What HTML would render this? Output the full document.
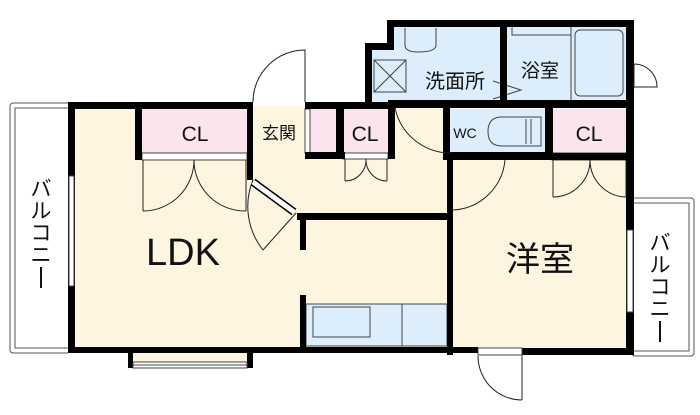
<!DOCTYPE html>
<html><head><meta charset="utf-8"><style>
html,body{margin:0;padding:0;background:#fff;width:700px;height:415px;overflow:hidden}
text{font-family:"Liberation Sans","Noto Sans CJK JP",sans-serif;fill:#111}
</style></head><body>
<svg width="700" height="415" viewBox="0 0 700 415" xmlns="http://www.w3.org/2000/svg">
<!-- balconies -->
<rect x="10" y="103" width="60" height="250" rx="3" fill="#fff" stroke="#555" stroke-width="1"/>
<rect x="15" y="108" width="55" height="240" fill="none" stroke="#555" stroke-width="1"/>
<rect x="632" y="198" width="62" height="158" rx="3" fill="#fff" stroke="#555" stroke-width="1"/>
<rect x="632" y="203" width="57" height="148" fill="none" stroke="#555" stroke-width="1"/>
<!-- floors -->
<rect x="72" y="106" width="378" height="245" fill="#fdf5e0"/>
<rect x="450" y="156" width="181" height="195" fill="#fdf5e0"/>
<rect x="131" y="350" width="119" height="18" fill="#fdf5e0"/>
<rect x="142" y="109" width="105" height="44" fill="#fce4ef"/>
<rect x="253" y="109" width="52" height="44" fill="#fdf5e0"/>
<rect x="310" y="109" width="26" height="44" fill="#fce4ef"/>
<rect x="343" y="109" width="45" height="44" fill="#fce4ef"/>
<rect x="552" y="109" width="76" height="44" fill="#fce4ef"/>
<rect x="450" y="109" width="96" height="44" fill="#dcedfb"/>
<rect x="387" y="25" width="115" height="77" fill="#dcedfb"/>
<rect x="370" y="48" width="20" height="54" fill="#dcedfb"/>
<rect x="506" y="25" width="122" height="77" fill="#dcedfb"/>
<rect x="306" y="304" width="141" height="42" fill="#dcedfb" stroke="#444" stroke-width="1"/>
<rect x="313" y="307" width="57" height="30" fill="#dcedfb" stroke="#444" stroke-width="1"/>
<line x1="402" y1="304" x2="402" y2="346" stroke="#444"/>
<!-- strips -->
<g fill="#fff" stroke="#444" stroke-width="1">
<rect x="142" y="153" width="105" height="7"/>
<rect x="343" y="153" width="45" height="6"/>
<rect x="552" y="153" width="76" height="7"/>
<rect x="305" y="109" width="5" height="44"/>
</g>
<!-- fixtures -->
<rect x="575" y="30" width="48" height="66" rx="5" fill="#dcedfb" stroke="#444"/>
<line x1="571" y1="27" x2="571" y2="100" stroke="#444"/>
<polyline points="512,27 512,35 571,35" fill="none" stroke="#444"/>
<rect x="374" y="60" width="32" height="32" fill="none" stroke="#444"/><path d="M374 60 L406 92 M406 60 L374 92" stroke="#444"/>
<path d="M405 28 L405 45 Q405 52 418 52 Q436 52 436 45 L436 28" fill="#dcedfb" stroke="#444"/>
<path d="M493 81 L521 90 L493 99" fill="none" stroke="#444"/>
<path d="M502 117 L541 117 L541 146 L502 146 Q488 146 488 131.5 Q488 117 502 117 Z" fill="#dcedfb" stroke="#444"/>
<line x1="526" y1="119" x2="526" y2="144" stroke="#444"/><line x1="531" y1="119" x2="531" y2="144" stroke="#444"/>
<!-- walls -->
<g fill="#000">
<rect x="68" y="102" width="185" height="7"/>
<rect x="305" y="102" width="90" height="7"/>
<rect x="395" y="100" width="238" height="8"/>
<rect x="68" y="102" width="7" height="251"/>
<rect x="135" y="102" width="7" height="58"/>
<rect x="247" y="102" width="6" height="78"/>
<rect x="305" y="152" width="40" height="7"/>
<rect x="336" y="102" width="8" height="57"/>
<rect x="388" y="100" width="7" height="59"/>
<rect x="387" y="20" width="246" height="7"/>
<rect x="387" y="20" width="7" height="30"/>
<rect x="365" y="43" width="29" height="7"/>
<rect x="365" y="43" width="7" height="64"/>
<rect x="500" y="20" width="7" height="82"/>
<rect x="626" y="20" width="8" height="335"/>
<rect x="443" y="100" width="7" height="60"/>
<rect x="443" y="152" width="110" height="7"/>
<rect x="545" y="100" width="8" height="59"/>
<rect x="447" y="153" width="181" height="7"/>
<rect x="447" y="160" width="6" height="195"/>
<rect x="297" y="213" width="156" height="7"/>
<rect x="300" y="213" width="6" height="37"/>
<rect x="300" y="295" width="6" height="58"/>
<rect x="68" y="347" width="410" height="6"/>
<rect x="522" y="348" width="112" height="7"/>
<rect x="128" y="347" width="5" height="21"/>
<rect x="247" y="347" width="6" height="21"/>
</g>
<!-- windows -->
<g fill="#fff" stroke="#444" stroke-width="1">
<rect x="69" y="176" width="5" height="110"/>
<rect x="627" y="230" width="6" height="82"/>
<rect x="133" y="362" width="114" height="6"/>
</g>
<line x1="133" y1="365" x2="247" y2="365" stroke="#444"/>
<!-- doors -->
<g fill="none" stroke="#222" stroke-width="1">
<path d="M305 102 L305 50 A52 52 0 0 0 253 102"/>
<path d="M143 211 L143 160 M143 211 A51 51 0 0 0 194 160 M246 211 L246 160 M246 211 A51 51 0 0 1 194 160"/>
<path d="M345 181 L345 159 M345 181 A21 21 0 0 0 366 159 M387 181 L387 159 M387 181 A21 21 0 0 1 366 159"/>
<path d="M553 197 L553 160 M553 197 A37 37 0 0 0 590 160 M626 197 L626 160 M626 197 A37 37 0 0 1 590 160"/>
<path d="M453 210 A55 55 0 0 0 505 160"/>
<path d="M452 153 A57 57 0 0 1 395 108"/>
<path d="M253 180 A70 70 0 0 0 263 250 L296 213"/>
<path d="M522 400 L522 355 M522 400 A44 44 0 0 1 478 356"/>
<path d="M634 64 L634 87 M634 64 A23 23 0 0 1 657 87 L634 87"/>
</g>
<line x1="253" y1="182" x2="294" y2="212" stroke="#000" stroke-width="8"/>
<line x1="253" y1="182" x2="294" y2="212" stroke="#fff" stroke-width="5"/>
<rect x="478" y="348" width="44" height="7" fill="#fff" stroke="#444"/>
<!-- labels -->
<text x="183" y="265" font-size="38" text-anchor="middle">LDK</text>
<text x="540" y="271" font-size="34" text-anchor="middle">洋室</text>
<text x="195" y="141" font-size="21" text-anchor="middle">CL</text>
<text x="365" y="141" font-size="21" text-anchor="middle">CL</text>
<text x="589" y="141" font-size="21" text-anchor="middle">CL</text>
<text x="279" y="139" font-size="17" text-anchor="middle">玄関</text>
<text x="465" y="138" font-size="14" text-anchor="middle">WC</text>
<text x="455" y="88" font-size="20" text-anchor="middle">洗面所</text>
<text x="540" y="77" font-size="19" text-anchor="middle">浴室</text>
<g font-size="21" text-anchor="middle">
<text x="41" y="196">バ</text>
<text x="41" y="218">ル</text>
<text x="41" y="240">コ</text>
<text x="41" y="262">ニ</text>
<text x="660" y="250">バ</text>
<text x="660" y="272">ル</text>
<text x="660" y="294">コ</text>
<text x="660" y="316">ニ</text>
</g>
<line x1="41" y1="267" x2="41" y2="288" stroke="#111" stroke-width="2"/>
<line x1="660" y1="321" x2="660" y2="342" stroke="#111" stroke-width="2"/>
</svg>
</body></html>
